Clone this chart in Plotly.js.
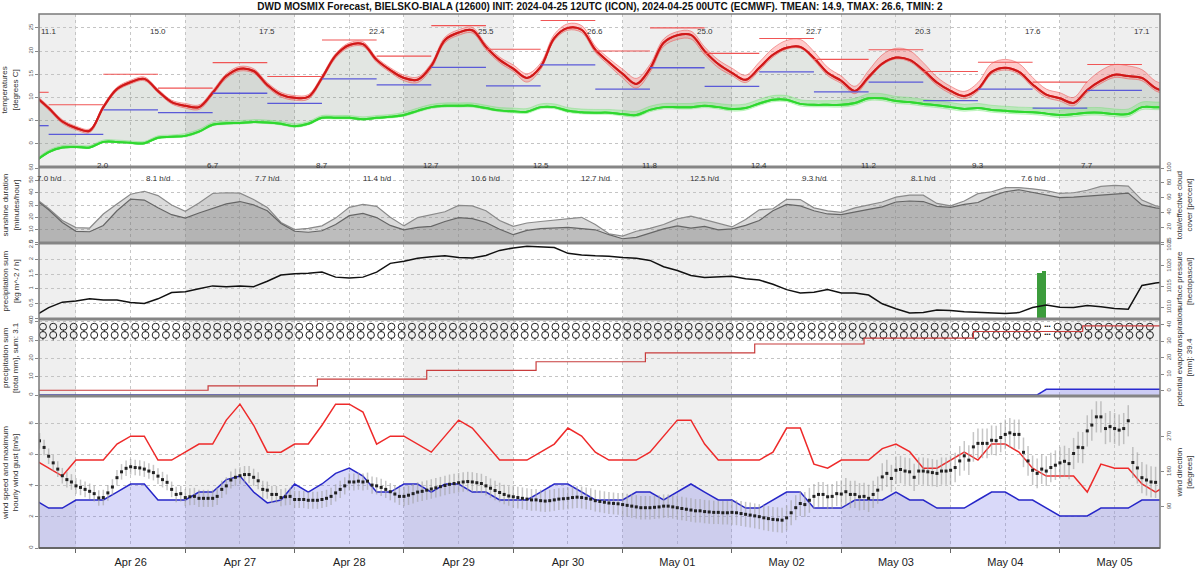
<!DOCTYPE html>
<html><head><meta charset="utf-8">
<script src="https://cdn.plot.ly/plotly-3.0.1.min.js"></script>
<style>body{margin:0;background:#fff}#chart{width:1200px;height:571px}</style>
</head><body><div id="chart"></div>
<script>
// ---------- DATA ----------
const gridStart = '2024-04-25 15:00';   // 3-hourly series start
const temperature = [10.3, 7.7, 4.8,
 3.4, 2.8, 7.9, 11.8, 13.3, 14.0, 11.4, 9.0,
 8.2, 7.9, 11.0, 14.6, 16.2, 15.7, 12.7, 10.6,
 9.9, 10.1, 14.2, 19.0, 21.3, 21.5, 18.1, 15.9,
 14.2, 13.8, 16.8, 22.4, 24.0, 24.5, 20.9, 18.1,
 16.2, 14.2, 16.6, 22.8, 25.0, 24.6, 20.3, 17.6,
 15.1, 12.9, 16.2, 21.8, 23.4, 23.5, 20.0, 17.2,
 15.3, 13.8, 16.4, 19.2, 20.7, 20.9, 18.5, 15.3,
 13.6, 11.4, 14.4, 17.3, 18.6, 18.1, 15.9, 13.2,
 11.4, 10.3, 11.8, 15.5, 16.4, 15.5, 12.8, 10.6,
 9.8, 8.8, 11.6, 13.6, 14.9, 14.6, 14.2, 12.0,
 11.0];
const tempSpreadUp = [0.4, 0.4, 0.4,
 0.4, 0.4, 0.4, 0.4, 0.4, 0.4, 0.4, 0.4,
 0.5, 0.5, 0.5, 0.5, 0.5, 0.5, 0.5, 0.5,
 0.5, 0.5, 0.5, 0.5, 0.5, 0.5, 0.5, 0.5,
 0.6, 0.6, 0.6, 0.6, 0.6, 0.6, 0.6, 0.6,
 0.8, 0.9, 0.8, 0.8, 0.9, 0.9, 0.8, 0.8,
 1.0, 1.2, 0.9, 0.8, 0.8, 0.8, 0.9, 0.9,
 1.0, 1.0, 1.2, 1.4, 1.6, 1.6, 1.4, 1.2,
 1.0, 1.0, 1.4, 1.9, 2.0, 2.0, 1.6, 1.2,
 1.0, 1.0, 1.4, 1.8, 1.8, 1.8, 1.5, 1.2,
 1.2, 1.2, 1.8, 2.2, 2.2, 2.2, 1.8, 1.5,
 1.5];
const tempSpreadDown = [0.4, 0.4, 0.4,
 0.4, 0.4, 0.4, 0.4, 0.4, 0.4, 0.4, 0.4,
 0.5, 0.5, 0.5, 0.5, 0.5, 0.5, 0.5, 0.5,
 0.5, 0.5, 0.5, 0.5, 0.5, 0.5, 0.5, 0.5,
 0.6, 0.6, 0.6, 0.6, 0.6, 0.6, 0.6, 0.6,
 0.6, 0.9, 0.6, 0.5, 0.5, 0.6, 0.6, 0.7,
 0.9, 0.9, 0.8, 0.8, 0.9, 0.9, 0.8, 0.8,
 0.6, 0.6, 0.6, 0.5, 0.3, 0.3, 0.5, 0.6,
 0.6, 0.6, 0.5, 0.3, 0.3, 0.4, 0.5, 0.6,
 0.6, 0.6, 0.5, 0.5, 0.5, 0.5, 0.6, 0.6,
 0.6, 0.6, 0.6, 0.6, 0.6, 0.6, 0.6, 0.6,
 0.6];
const dewpoint = [-3.9, -1.8, -0.8,
 -0.7, -0.8, 0.4, 0.4, 0.2, 0.1, 1.3, 1.5,
 1.7, 2.6, 4.1, 4.4, 4.5, 4.7, 4.6, 4.3,
 3.8, 4.3, 5.6, 5.6, 5.6, 5.3, 5.6, 5.8,
 6.2, 7.1, 7.9, 8.2, 8.2, 8.2, 7.7, 7.2,
 7.0, 6.9, 7.9, 7.9, 7.1, 6.8, 6.7, 6.7,
 6.4, 6.2, 7.3, 7.9, 7.9, 7.9, 8.2, 7.9,
 7.5, 7.7, 8.7, 9.5, 9.5, 8.6, 8.4, 8.4,
 8.4, 8.8, 9.8, 9.8, 9.2, 9.0, 8.6, 8.3,
 7.9, 7.5, 7.7, 7.3, 7.1, 6.9, 6.8, 6.5,
 6.2, 6.4, 6.7, 6.7, 6.4, 6.4, 7.9, 7.9,
 7.9];
const dewSpreadByDay = [0.4, 0.4, 0.5, 0.5, 0.6, 0.7, 0.8, 0.9, 1.0, 1.0, 1.1, 1.1];
const cloudTotal = [59.4, 45.5, 29.0,
 19.4, 18.9, 37.9, 51.5, 64.6, 68.6, 62.7, 50.1,
 41.6, 52.8, 65.6, 66.6, 66.0, 57.4, 46.8, 26.4,
 16.8, 18.5, 21.8, 32.3, 46.8, 50.8, 48.2, 33.6,
 21.8, 33.0, 36.9, 40.9, 49.5, 48.8, 42.2, 29.0,
 21.1, 25.7, 27.7, 29.7, 32.3, 33.4, 23.7, 11.2,
 7.9, 14.5, 18.5, 23.7, 31.3, 35.0, 30.3, 25.1,
 20.4, 30.3, 43.5, 44.9, 57.7, 57.4, 46.2, 42.2,
 40.0, 46.2, 50.1, 54.1, 60.7, 63.3, 63.3, 52.1,
 48.8, 55.4, 65.3, 67.9, 73.5, 73.5, 71.9, 69.5,
 65.6, 66.6, 69.9, 75.2, 76.5, 75.6, 56.7, 48.8,
 46.2];
const cloudEffective = [58.0, 43.5, 26.4,
 14.5, 13.9, 22.4, 42.2, 58.0, 56.7, 46.2, 36.9,
 32.3, 39.2, 44.9, 51.5, 54.7, 50.1, 42.2, 25.1,
 14.5, 13.2, 15.2, 23.7, 35.6, 38.7, 33.0, 22.4,
 16.5, 19.8, 21.1, 27.7, 33.0, 31.7, 26.4, 17.2,
 9.9, 15.8, 18.1, 19.1, 19.8, 18.2, 16.5, 9.9,
 4.4, 6.3, 12.5, 17.8, 21.8, 18.7, 21.1, 16.5,
 17.8, 22.4, 29.0, 42.2, 50.8, 48.8, 42.2, 37.9,
 36.9, 40.9, 44.2, 47.5, 54.1, 55.4, 54.7, 48.2,
 46.8, 50.8, 53.4, 62.0, 67.9, 70.6, 67.3, 63.3,
 60.0, 60.7, 62.0, 63.3, 64.6, 66.0, 50.1, 46.2,
 43.5];
const pressure = [1008.0, 1010.0, 1011.3,
 1011.6, 1012.1, 1011.8, 1011.8, 1011.2, 1011.0, 1012.1, 1013.6,
 1013.8, 1014.5, 1015.2, 1015.0, 1015.2, 1015.0, 1016.3, 1017.8,
 1018.1, 1018.2, 1018.5, 1017.3, 1017.1, 1017.3, 1018.5, 1020.6,
 1021.1, 1021.8, 1022.2, 1022.4, 1022.0, 1021.9, 1022.5, 1023.7,
 1024.3, 1024.7, 1024.5, 1024.4, 1023.0, 1022.6, 1022.4, 1022.3,
 1022.0, 1021.8, 1021.3, 1019.8, 1018.9, 1017.7, 1017.2, 1017.4,
 1017.5, 1016.9, 1016.6, 1015.6, 1014.3, 1013.5, 1013.7, 1014.3,
 1013.5, 1013.5, 1013.0, 1010.9, 1009.7, 1008.7, 1008.8, 1009.4,
 1009.3, 1009.0, 1008.9, 1008.8, 1008.6, 1008.8, 1010.0, 1010.6,
 1010.1, 1010.0, 1010.5, 1010.2, 1009.8, 1009.6, 1015.3, 1015.9,
 1016.2];
const windSpeed = [3.09, 2.57, 2.57,
 3.09, 3.09, 3.09, 3.6, 4.12, 4.12, 3.09, 3.09,
 3.09, 3.6, 3.6, 4.4, 4.63, 3.6, 2.9, 3.09,
 4.12, 3.6, 4.12, 4.8, 5.14, 4.63, 3.6, 3.6,
 4.12, 4.12, 3.6, 4.12, 4.12, 3.6, 3.6, 3.09,
 3.09, 3.09, 3.6, 4.12, 4.12, 3.6, 3.09, 3.09,
 3.09, 3.6, 3.6, 3.09, 3.6, 4.12, 3.6, 3.09,
 3.09, 2.57, 2.57, 3.09, 3.6, 3.6, 2.57, 2.57,
 2.57, 3.09, 3.09, 3.09, 3.6, 3.09, 3.09, 2.57,
 2.57, 2.57, 3.09, 3.6, 3.6, 3.09, 3.09, 2.57,
 2.06, 2.06, 2.06, 2.57, 2.57, 2.57, 3.09, 3.09,
 3.09];
const windGust = [5.66, 5.14, 4.63,
 5.66, 5.66, 5.66, 6.69, 7.2, 7.2, 5.66, 5.66,
 6.17, 6.69, 6.69, 8.23, 9.26, 7.9, 6.17, 6.17,
 6.69, 6.69, 7.9, 9.26, 9.26, 8.75, 6.69, 7.2,
 7.2, 6.69, 6.17, 7.2, 8.23, 7.72, 6.69, 5.66,
 5.66, 5.66, 6.17, 6.69, 7.72, 7.2, 6.17, 5.66,
 5.66, 5.66, 6.17, 7.2, 8.23, 8.23, 6.69, 5.66,
 5.66, 5.66, 5.66, 6.17, 7.72, 7.72, 5.4, 5.14,
 5.66, 5.66, 5.66, 6.4, 6.69, 6.2, 5.14, 5.14,
 5.66, 6.17, 5.66, 6.69, 6.69, 6.17, 5.14, 4.63,
 4.63, 4.63, 3.6, 5.4, 5.14, 5.14, 4.12, 3.6,
 4.12];
const dirStart = '2024-04-25 16:00';  // hourly wind direction, continuous
const windDir = [259.6, 242.6, 220, 203, 187, 170, 160, 154,
 144, 140, 135, 130, 124, 113, 114, 126, 141, 165, 180, 189, 193, 191, 190, 187, 182, 178, 169, 160, 153, 135, 122, 124,
 114, 116, 117, 112, 112, 112, 112, 117, 135, 144, 159, 166, 170, 173, 173, 166, 157, 135, 133, 122, 122, 114, 116, 117,
 109, 109, 109, 107, 107, 107, 109, 112, 117, 126, 135, 144, 154, 154, 156, 154, 156, 146, 144, 140, 135, 129, 123, 117,
 117, 120, 124, 128, 130, 133, 136, 139, 142, 145, 148, 150, 152, 154, 155, 154, 152, 150, 144, 138, 132, 127, 122, 118,
 116, 114, 112, 110, 108, 108, 106, 105, 106, 108, 110, 111, 112, 114, 115, 114, 112, 110, 106, 104, 102, 100, 99, 98,
 96, 94, 92, 90, 88, 88, 88, 89, 90, 92, 92, 90, 88, 86, 84, 82, 80, 80, 78, 77, 76, 76, 75, 75,
 76, 75, 73, 71, 69, 67, 65, 62, 60, 58, 57, 56, 62, 75, 88,
 98.7, 96, 107, 117, 122, 122, 116, 117, 124,
 123, 129, 122, 122, 116, 117, 112, 122, 133, 167, 176, 163, 184, 186, 182,
 180, 166, 182, 182, 180, 178, 176, 182, 182, 184, 191, 208, 221, 210, 244, 253, 253, 253, 261, 260, 268, 276, 280, 276,
 276, 230, 208, 184, 176, 187, 182, 191, 197, 203, 207, 201, 227, 243, 242, 285, 300, 321, 321, 291, 296, 291, 287, 291,
 311, 204, 190, 165, 159, 154, 153];
const dirSpreadByDay = [20, 20, 22, 22, 25, 28, 30, 32, 35, 38, 40];
const maxLabels = ['11.1', '15.0', '17.5', '22.4', '25.5', '26.6', '25.0', '22.7', '20.3', '17.6', '17.1'];
const minLabels = ['2.0', '6.7', '8.7', '12.7', '12.5', '11.8', '12.4', '11.2', '9.3', '7.7'];
const sunLabels = ['7.0 h/d', '8.1 h/d', '7.7 h/d', '11.4 h/d', '10.6 h/d', '12.7 h/d', '12.5 h/d', '9.3 h/d', '8.1 h/d', '7.6 h/d'];
const halfDayMax = [11.1, 8.4, 15.0, 12.0, 17.5, 14.5, 22.4, 18.9, 25.5, 20.4, 26.6, 20.0, 25.0, 19.5, 22.7, 18.2, 20.3, 15.6, 17.6, 13.3, 17.1];
const halfDayMin = [3.9, 2.0, 7.3, 6.7, 10.9, 8.7, 14.0, 12.7, 16.5, 12.5, 17.0, 11.8, 16.4, 12.4, 15.5, 11.2, 13.3, 9.3, 11.8, 7.7, 11.5];
const precipTimes = ['2024-05-04 19:30', '2024-05-04 20:30'];
const precipHourly = [1.53, 1.61];
const etTimes = ['2024-04-25 12:00', '2024-04-27 05:00', '2024-04-28 05:00', '2024-04-29 05:00', '2024-04-30 05:00', '2024-05-01 05:00', '2024-05-02 05:00', '2024-05-03 05:00', '2024-05-04 05:00', '2024-05-05 05:00', '2024-05-06 00:00'];
const etSum = [0.3, 3.0, 7.0, 12.4, 17.6, 23.0, 28.4, 32.0, 36.0, 39.4, 39.4];
const shadedDays = ['2024-04-25', '2024-04-27', '2024-04-29', '2024-05-01', '2024-05-03', '2024-05-05'];
const symbolStart = '2024-04-25 16:45';
const symbolStepHours = 2.25;
const symbolCount = 109;
const rainSymbolIndex = [98];

// ---------- helpers ----------
function addH(str, h) {
  const [d, t] = str.split(' ');
  const [Y, M, D] = d.split('-').map(Number);
  const [hh, mm] = (t || '00:00').split(':').map(Number);
  const x = new Date(Date.UTC(Y, M - 1, D, hh, mm) + Math.round(h * 3600000));
  const p = n => String(n).padStart(2, '0');
  return `${x.getUTCFullYear()}-${p(x.getUTCMonth() + 1)}-${p(x.getUTCDate())} ${p(x.getUTCHours())}:${p(x.getUTCMinutes())}`;
}
function seq(start, step, n) { const a = []; for (let i = 0; i < n; i++) a.push(addH(start, i * step)); return a; }
function dayIndex(str) { const ms = Date.UTC(+str.slice(0,4), +str.slice(5,7)-1, +str.slice(8,10)); return Math.round((ms - Date.UTC(2024,3,25)) / 86400000); }

const T3 = seq(gridStart, 3, temperature.length);
const xStart = '2024-04-25 15:53', xEnd = '2024-05-05 21:58';

const traces = [];
const hov = 'skip';
// ---- panel 1: temperatures
const tLow = temperature.map((v, i) => v - tempSpreadDown[i]);
const tHigh = temperature.map((v, i) => v + tempSpreadUp[i]);
const dSpread = T3.map(t => dewSpreadByDay[dayIndex(t)]);
const dLow = dewpoint.map((v, i) => v - dSpread[i] * 0.5);
const dHigh = dewpoint.map((v, i) => v + dSpread[i]);
traces.push({x: T3, y: dewpoint, yaxis: 'y', mode: 'lines', line: {color: '#2fd82f', width: 2, shape: 'spline'}, hoverinfo: hov});
traces.push({x: T3, y: temperature, yaxis: 'y', mode: 'lines', line: {color: '#d01818', width: 2, shape: 'spline'}, fill: 'tonexty', fillcolor: 'rgba(110,130,110,0.20)', hoverinfo: hov});
traces.push({x: T3, y: tLow, yaxis: 'y', mode: 'lines', line: {color: 'rgba(235,90,90,0.7)', width: 0.8, shape: 'spline'}, hoverinfo: hov});
traces.push({x: T3, y: tHigh, yaxis: 'y', mode: 'lines', line: {color: 'rgba(235,90,90,0.7)', width: 0.8, shape: 'spline'}, fill: 'tonexty', fillcolor: 'rgba(255,110,110,0.35)', hoverinfo: hov});
traces.push({x: T3, y: dLow, yaxis: 'y', mode: 'lines', line: {color: 'rgba(80,220,80,0.5)', width: 0.6, shape: 'spline'}, hoverinfo: hov});
traces.push({x: T3, y: dHigh, yaxis: 'y', mode: 'lines', line: {color: 'rgba(80,220,80,0.5)', width: 0.6, shape: 'spline'}, fill: 'tonexty', fillcolor: 'rgba(100,235,100,0.30)', hoverinfo: hov});
traces.push({x: T3, y: temperature, yaxis: 'y', mode: 'lines', line: {color: '#d01818', width: 2, shape: 'spline'}, hoverinfo: hov});
traces.push({x: T3, y: dewpoint, yaxis: 'y', mode: 'lines', line: {color: '#2fd82f', width: 2, shape: 'spline'}, hoverinfo: hov});
// half-day bars
const bounds = ['2024-04-25 12:00'].concat(seq('2024-04-25 18:00', 12, halfDayMax.length));
function barTrace(vals, color, w) {
  const x = [], y = [];
  vals.forEach((v, i) => { x.push(bounds[i], bounds[i + 1], null); y.push(v, v, null); });
  return {x, y, yaxis: 'y', mode: 'lines', line: {color, width: w}, hoverinfo: hov, connectgaps: false};
}
traces.push(barTrace(halfDayMax, '#f05555', 1.1));
traces.push(barTrace(halfDayMin, '#5a5ad8', 1.3));

// ---- panel 2: cloud cover
traces.push({x: [T3[0]], y: [null], yaxis: 'y2', mode: 'lines', hoverinfo: hov});
traces.push({x: T3, y: cloudTotal, yaxis: 'y6', mode: 'lines', line: {color: '#8a8a8a', width: 1.2}, fill: 'tozeroy', fillcolor: 'rgba(110,110,110,0.25)', hoverinfo: hov});
traces.push({x: T3, y: cloudEffective, yaxis: 'y6', mode: 'lines', line: {color: '#666', width: 1.2}, fill: 'tozeroy', fillcolor: 'rgba(110,110,110,0.28)', hoverinfo: hov});

// ---- panel 3: precipitation + pressure
traces.push({type: 'bar', x: precipTimes, y: precipHourly, yaxis: 'y3', width: 3600000, marker: {color: '#3c9c3c', line: {width: 0}}, hoverinfo: hov});
traces.push({x: T3, y: pressure, yaxis: 'y7', mode: 'lines', line: {color: '#111', width: 1.5}, hoverinfo: hov});

// ---- panel 4: precipitation sum, evapotranspiration, symbols
const sumX = ['2024-04-25 12:00', addH(precipTimes[0], -0.5)];
const sumY = [0, 0];
let acc = 0;
precipTimes.forEach((t, i) => { acc += precipHourly[i]; sumX.push(addH(t, 0.5)); sumY.push(acc); });
sumX.push('2024-05-06 00:00'); sumY.push(acc);
traces.push({x: sumX, y: sumY, yaxis: 'y4', mode: 'lines', line: {color: '#2a2ad0', width: 1.5}, fill: 'tozeroy', fillcolor: 'rgba(140,140,255,0.35)', hoverinfo: hov});
traces.push({x: etTimes, y: etSum, yaxis: 'y8', mode: 'lines', line: {color: '#c83c3c', width: 1.2, shape: 'hv'}, hoverinfo: hov});
const symX = seq(symbolStart, symbolStepHours, symbolCount);
const cloudSymX = symX.filter((t, i) => !rainSymbolIndex.includes(i));
const rainSymX = symX.filter((t, i) => rainSymbolIndex.includes(i));
[37.3, 32.8].forEach(row => {
  traces.push({x: cloudSymX, y: cloudSymX.map(() => row - 2.2), yaxis: 'y4', mode: 'markers', marker: {symbol: 'line-ns', size: 2, line: {width: 1, color: '#444'}}, hoverinfo: hov});
  traces.push({x: cloudSymX, y: cloudSymX.map(() => row), yaxis: 'y4', mode: 'markers', marker: {symbol: 'circle-open', size: 7, color: '#222', line: {width: 1, color: '#222'}}, hoverinfo: hov});
  traces.push({x: rainSymX, y: rainSymX.map(() => row), yaxis: 'y4', mode: 'text', text: rainSymX.map(() => '•••'), textfont: {size: 6, color: '#111'}, hoverinfo: hov});
});

// ---- panel 5: wind
traces.push({x: T3, y: windSpeed, yaxis: 'y5', mode: 'lines', line: {color: '#2626c8', width: 1.5}, fill: 'tozeroy', fillcolor: 'rgba(120,120,235,0.28)', hoverinfo: hov});
traces.push({x: T3, y: windGust, yaxis: 'y5', mode: 'lines', line: {color: '#ee2a2a', width: 1.5}, hoverinfo: hov});
const dirX = seq(dirStart, 1, windDir.length);
traces.push({x: dirX, y: windDir, yaxis: 'y9', mode: 'markers', marker: {symbol: 'square', size: 3, color: '#222'},
  error_y: {type: 'data', array: dirX.map(t => dirSpreadByDay[Math.min(dayIndex(t), dirSpreadByDay.length - 1)]), visible: true, color: 'rgba(160,160,160,0.6)', thickness: 1.5, width: 0}, hoverinfo: hov});

// ---------- layout ----------
const D = {p1: [0.7154, 1], p2: [0.5730, 0.7116], p3: [0.4307, 0.5693], p4: [0.2865, 0.4270], p5: [0, 0.2828]};
const yb = {showgrid: true, gridcolor: '#c4c4c4', griddash: 'dot', gridwidth: 1, zeroline: false, ticks: 'outside', ticklen: 3,
  tickcolor: '#888', tickangle: -90, tickfont: {size: 6, color: '#555'}, showline: false, anchor: 'x', fixedrange: true};
const yr = Object.assign({}, yb, {showgrid: false, side: 'right'});
const shapes = [];
shadedDays.forEach(d => shapes.push({type: 'rect', xref: 'x', yref: 'paper', x0: d + ' 00:00', x1: addH(d + ' 00:00', 24), y0: 0, y1: 1, fillcolor: '#efefef', line: {width: 0}, layer: 'below'}));
[0.7135, 0.5712, 0.4288, 0.2846].forEach(y => shapes.push({type: 'line', xref: 'paper', yref: 'paper', x0: 0, x1: 1, y0: y, y1: y, line: {color: '#858585', width: 3}}));
shapes.push({type: 'rect', xref: 'paper', yref: 'paper', x0: 0, x1: 1, y0: 0, y1: 1, line: {color: '#7a7a7a', width: 1.5}});
shapes.push({type: 'line', xref: 'paper', yref: 'paper', x0: 0, x1: 1, y0: 0, y1: 0, line: {color: '#666', width: 2}});

const annotations = [];
const A = (text, x, y, opts) => annotations.push(Object.assign({text, x, y, xref: 'paper', yref: 'paper', xanchor: 'center', yanchor: 'middle', showarrow: false, font: {size: 8, color: '#333'}}, opts || {}));
const leftX = -0.0255, rightX = 1.0215;
A('temperatures<br>[degrees C]', leftX, 0.8577, {textangle: -90});
A('sunshine duration<br>[minutes/hour]', leftX, 0.642, {textangle: -90});
A('precipitation sum<br>[kg m^-2 / h]', leftX, 0.5, {textangle: -90});
A('precipitation sum<br>[total mm], sum: 3.1', leftX, 0.3567, {textangle: -90});
A('wind speed and maximum<br>hourly wind gust [m/s]', leftX, 0.1414, {textangle: -90});
A('total/effective cloud<br>cover [percent]', rightX, 0.642, {textangle: -90});
A('surface pressure<br>[hectopascal]', rightX, 0.5, {textangle: -90});
A('potential evapotranspiration<br>[mm]: 39.4', rightX, 0.3567, {textangle: -90});
A('wind direction<br>[degrees]', rightX, 0.1414, {textangle: -90});
const maxX = seq('2024-04-25 18:00', 24, maxLabels.length);
maxLabels.forEach((s, i) => annotations.push({text: s, x: maxX[i], y: 0.979, xref: 'x', yref: 'paper', showarrow: false, font: {size: 8, color: '#333'}}));
const minX = seq('2024-04-26 06:00', 24, minLabels.length);
minLabels.forEach((s, i) => annotations.push({text: s, x: minX[i], y: 0.7285, xref: 'x', yref: 'paper', showarrow: false, font: {size: 8, color: '#333'}}));
const sunX = seq('2024-04-25 18:00', 24, sunLabels.length);
sunLabels.forEach((s, i) => annotations.push({text: s, x: sunX[i], y: 0.7045, xref: 'x', yref: 'paper', showarrow: false, font: {size: 8, color: '#333'}}));

const layout = {
  width: 1200, height: 571, margin: {l: 39, r: 40, t: 14, b: 23},
  paper_bgcolor: '#fff', plot_bgcolor: '#fff', showlegend: false, bargap: 0,
  font: {family: 'Liberation Sans, Arial, sans-serif', size: 8, color: '#333'},
  title: {text: '<b>DWD MOSMIX Forecast, BIELSKO-BIALA (12600) INIT: 2024-04-25 12UTC (ICON), 2024-04-25 00UTC (ECMWF). TMEAN: 14.9, TMAX: 26.6, TMIN: 2</b>',
    font: {size: 10, color: '#111'}, x: 0.5, xanchor: 'center', xref: 'container', y: 0.989, yref: 'container', yanchor: 'middle'},
  xaxis: {type: 'date', range: [xStart, xEnd], dtick: 86400000, tick0: '2024-04-26 00:00', tickformat: '%b %d', ticklabelmode: 'period',
    showgrid: true, gridcolor: '#c4c4c4', griddash: 'dot', ticks: 'outside', ticklen: 4, tickcolor: '#666',
    tickfont: {size: 11, color: '#222'}, anchor: 'y5', zeroline: false, showline: false, fixedrange: true,
    minor: {dtick: 43200000, tick0: '2024-04-26 00:00', showgrid: true, gridcolor: '#c8c8c8', griddash: 'dot', ticks: ''}},
  yaxis: Object.assign({}, yb, {domain: D.p1, range: [-4.8, 28], dtick: 5, tick0: 0}),
  yaxis2: Object.assign({}, yb, {domain: D.p2, range: [0, 60], dtick: 10}),
  yaxis3: Object.assign({}, yb, {domain: D.p3, range: [0, 2.53], dtick: 0.5}),
  yaxis4: Object.assign({}, yb, {domain: D.p4, range: [0, 41], dtick: 10}),
  yaxis5: Object.assign({}, yb, {domain: D.p5, range: [0, 9.72], dtick: 2}),
  yaxis6: Object.assign({}, yr, {overlaying: 'y2', range: [0, 100], dtick: 20}),
  yaxis7: Object.assign({}, yr, {overlaying: 'y3', range: [1007.5, 1025.24], dtick: 5, tick0: 1000}),
  yaxis8: Object.assign({}, yr, {overlaying: 'y4', range: [-2.6, 43], dtick: 10}),
  yaxis9: Object.assign({}, yr, {overlaying: 'y5', range: [-15.4, 372], tickvals: [90, 180, 270]}),
  shapes, annotations
};
Plotly.newPlot('chart', traces, layout, {staticPlot: true, displayModeBar: false});
</script>
</body></html>
